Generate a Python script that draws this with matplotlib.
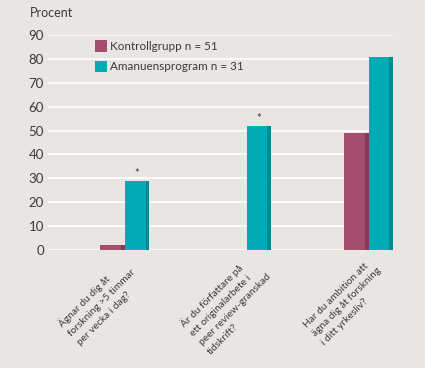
import matplotlib
matplotlib.use("Agg")
import matplotlib.pyplot as plt
import matplotlib.transforms as mtransforms
import numpy as np
from matplotlib.patches import Patch

categories = ["Ägnar du dig åt\nforskning >5 timmar\nper vecka i dag?",
              "Är du författare på\nett originalarbete i\npeer review-granskad\ntidskrift?",
              "Har du ambition att\nägna dig åt forskning\ni ditt yrkesliv?"]
kontroll = [2, 0, 49]
amanuens = [29, 52, 81]
significant = [True, True, False]
series_labels = ["Kontrollgrupp n = 51", "Amanuensprogram n = 31"]
y_ticks = [0, 10, 20, 30, 40, 50, 60, 70, 80, 90]

bg = "#e9e5e2"
c_k, c_k_dark = "#a54d6d", "#873955"
c_a, c_a_dark = "#00abb4", "#008a93"
text_c = "#3a3a3a"

plt.rcParams['font.family'] = ['Lato', 'DejaVu Sans']

fig = plt.figure(figsize=(4.25, 3.68), dpi=100, facecolor=bg)
ax = fig.add_axes([48/425, 1-250/368, (393-48)/425, (250-35)/368], facecolor=bg)

x = np.arange(len(categories))
w = 0.2
stripe = 0.03
ax.bar(x - w/2, kontroll, w, color=c_k, zorder=3, linewidth=0)
ax.bar(x - stripe/2, kontroll, stripe, color=c_k_dark, zorder=4, linewidth=0)
ax.bar(x + w/2, amanuens, w, color=c_a, zorder=3, linewidth=0)
ax.bar(x + w - stripe/2, amanuens, stripe, color=c_a_dark, zorder=4, linewidth=0)

for i, s in enumerate(significant):
    if s:
        ax.text(x[i] + w/2, amanuens[i] + 0.6, "*", ha="center", va="bottom",
                fontsize=8, color=text_c)

ax.set_xlim(-0.63, 2 + w)
ax.set_ylim(0, 90)
ax.set_yticks(y_ticks)
ax.grid(axis="y", color="white", linewidth=1.2, zorder=0)
ax.set_axisbelow(True)
for sp in ax.spines.values():
    sp.set_visible(False)
ax.tick_params(axis="y", length=0, labelsize=9.5, colors=text_c, pad=3)
ax.tick_params(axis="x", length=0)
ax.set_xticks(x)
ax.set_xticklabels([])

# category labels: rotated 45 deg, lines left-aligned, stacked perpendicular
line_gap = 12.5  # pixels between lines
perp = np.array([1, -1]) / np.sqrt(2)  # down-right in display coords
start = np.array([-62.0, -78.0])       # first-line baseline start rel. to group centre
for i, c in enumerate(categories):
    for j, line in enumerate(c.split("\n")):
        off = start + j * line_gap * perp
        tr = mtransforms.offset_copy(ax.transData, fig=fig, x=off[0], y=off[1], units="dots")
        ax.text(x[i], 0, line, rotation=45, ha="left", va="baseline",
                rotation_mode="anchor", fontsize=7.3, color=text_c,
                transform=tr, clip_on=False)

fig.text(30/425, 1-13/368, "Procent", fontsize=9, color=text_c, va="center", ha="left")

handles = [Patch(facecolor=c_k, edgecolor="none"), Patch(facecolor=c_a, edgecolor="none")]
leg = ax.legend(handles, series_labels, loc="upper left", bbox_to_anchor=(0.137, 0.975),
                frameon=False, fontsize=8.4, handlelength=1.0, handleheight=1.1,
                handletextpad=0.3, labelspacing=0.75, borderaxespad=0, borderpad=0)
for t in leg.get_texts():
    t.set_color(text_c)

fig.savefig("out.png", dpi=100, facecolor=bg)
